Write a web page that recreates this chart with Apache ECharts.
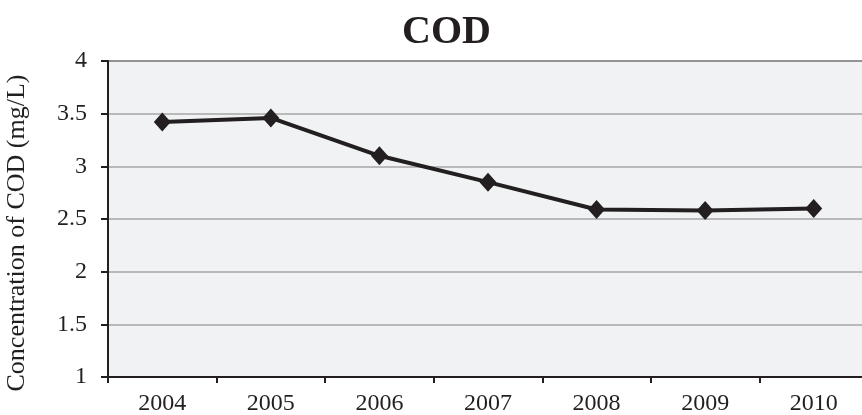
<!DOCTYPE html>
<html>
<head>
<meta charset="utf-8">
<script src="https://cdn.jsdelivr.net/npm/echarts@6/dist/echarts.min.js"></script>
<style>html,body{margin:0;padding:0;background:#fff}#c{width:862px;height:415px}</style>
</head>
<body>
<div id="c"></div>
<script>
const titleText = 'COD';
const yAxisTitle = 'Concentration of COD (mg/L)';
const years = ['2004', '2005', '2006', '2007', '2008', '2009', '2010'];
const codValues = [3.42, 3.46, 3.10, 2.85, 2.59, 2.58, 2.60];
const yMin = 1, yMax = 4, yStep = 0.5;

const font = '"Liberation Serif", "Times New Roman", serif';
const chart = echarts.init(document.getElementById('c'), null, {renderer: 'canvas'});
chart.setOption({
  animation: false,
  backgroundColor: '#ffffff',
  title: {
    text: titleText,
    left: 397, top: 8,
    textStyle: {fontFamily: font, fontSize: 40, fontWeight: 'bold', color: '#231f20'}
  },
  grid: {
    left: 108, top: 61, width: 760, height: 316,
    outerBoundsMode: 'none',
    containLabel: false,
    show: true, backgroundColor: '#f1f2f4', borderColor: '#2b2b2b', borderWidth: 1.5
  },
  xAxis: {
    type: 'category',
    data: years,
    boundaryGap: true,
    axisLine: {lineStyle: {color: '#231f20', width: 2}},
    axisTick: {show: true, length: 6, lineStyle: {color: '#231f20', width: 2}},
    axisLabel: {fontFamily: font, fontSize: 24, color: '#231f20', margin: 15},
    splitLine: {show: false}
  },
  yAxis: {
    type: 'value',
    min: yMin, max: yMax, interval: yStep,
    name: yAxisTitle,
    nameLocation: 'middle',
    nameGap: 78,
    nameTextStyle: {fontFamily: font, fontSize: 26, color: '#231f20', padding: [0, 28, 0, 0]},
    axisLine: {show: true, lineStyle: {color: '#231f20', width: 2}},
    axisTick: {show: true, length: 7, lineStyle: {color: '#231f20', width: 2}},
    axisLabel: {fontFamily: font, fontSize: 24, color: '#231f20', margin: 21},
    splitLine: {show: true, lineStyle: {color: '#a6a6a6', width: 1.5}}
  },
  series: [{
    type: 'line',
    data: codValues,
    symbol: 'diamond',
    symbolSize: [17, 19],
    lineStyle: {color: '#231f20', width: 4},
    itemStyle: {color: '#231f20'}
  }]
});
</script>
</body>
</html>
